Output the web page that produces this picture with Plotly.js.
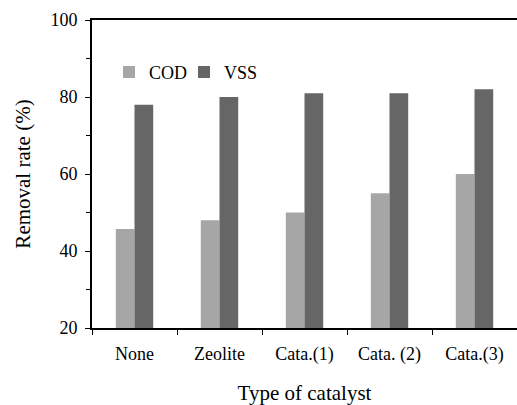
<!DOCTYPE html>
<html><head><meta charset="utf-8">
<script src="https://cdn.plot.ly/plotly-3.0.1.min.js"></script>
</head><body style="margin:0">
<div id="chart" style="width:517px;height:405px"></div>
<script>
const categories = ["None", "Zeolite", "Cata.(1)", "Cata. (2)", "Cata.(3)"];
const codValues = [45.7, 48, 50, 55, 60];
const vssValues = [78, 80, 81, 81, 82];
const seriesNames = ["COD", "VSS"];
const yTicks = [20, 40, 60, 80, 100];

const data = [
  {type: "bar", name: seriesNames[0], x: categories, y: codValues, marker: {color: "#a6a6a6"}},
  {type: "bar", name: seriesNames[1], x: categories, y: vssValues, marker: {color: "#666666"}}
];
const layout = {
  width: 517, height: 405,
  margin: {l: 92, r: 0, t: 20, b: 77},
  barmode: "group", bargap: 0.56, bargroupgap: 0,
  font: {family: "Liberation Serif", size: 17, color: "#000"},
  showlegend: true,
  legend: {orientation: "h", x: 0.04, y: 0.83, xanchor: "left", yanchor: "middle",
           font: {size: 18}, traceorder: "normal", entrywidth: 30, bgcolor: "rgba(0,0,0,0)"},
  xaxis: {
    type: "category", range: [-0.5, 4.5], automargin: false,
    showline: true, linecolor: "#000", linewidth: 2, mirror: true,
    ticks: "outside", tickson: "boundaries", ticklen: 5, tickcolor: "#000", tickwidth: 1,
    showgrid: false, zeroline: false,
    tickfont: {size: 18},
    ticklabelstandoff: 8,
    title: {text: "Type of catalyst", font: {size: 21}, standoff: 22}
  },
  yaxis: {
    range: [20, 100], tickvals: yTicks, ticktext: yTicks.map(String), automargin: false,
    showline: true, linecolor: "#000", linewidth: 2,
    ticks: "outside", ticklen: 5, tickcolor: "#000", tickwidth: 1,
    minor: {tickvals: [30, 50, 70, 90], ticks: "outside", ticklen: 4, tickcolor: "#000", showgrid: false},
    showgrid: false, zeroline: false,
    tickfont: {size: 18},
    ticklabelstandoff: 4,
    title: {text: "Removal rate (%)", font: {size: 21}, standoff: 14}
  }
};
Plotly.newPlot("chart", data, layout, {staticPlot: true});
</script>
</body></html>
